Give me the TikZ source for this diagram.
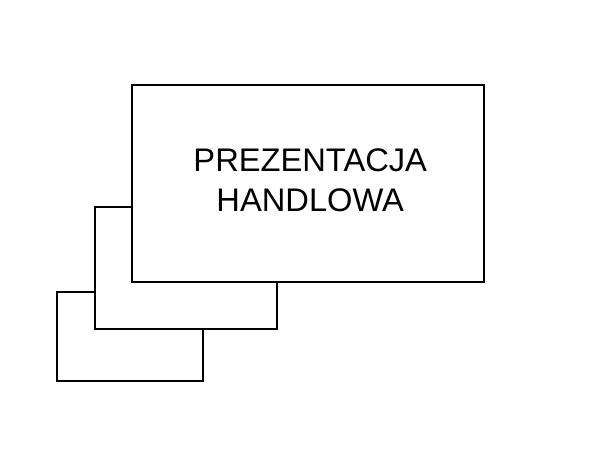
\documentclass[tikz,border=0pt]{standalone}
\usepackage{fontspec}
\setmainfont{Liberation Sans}
\begin{document}
\begin{tikzpicture}[x=0.75pt,y=-0.75pt,line width=1.4pt,
  kartka/.style={draw,fill=white,inner sep=0pt,anchor=north west}]

\useasboundingbox (0,0) rectangle (600,450);

\node[kartka,minimum width=145.7*0.75pt,minimum height=89.3*0.75pt] (trzecia) at (56,290.7) {};
\node[kartka,minimum width=182.6*0.75pt,minimum height=121.4*0.75pt] (druga) at (93.7,206.3) {};
\node[kartka,minimum width=352*0.75pt,minimum height=196.7*0.75pt] (pierwsza) at (131.3,84.3) {};

\node[align=center,font=\fontsize{24.5}{30}\selectfont] (tytul) at ([xshift=1.5pt,yshift=2.5pt]pierwsza.center) {PREZENTACJA\\HANDLOWA};
\end{tikzpicture}
\end{document}
